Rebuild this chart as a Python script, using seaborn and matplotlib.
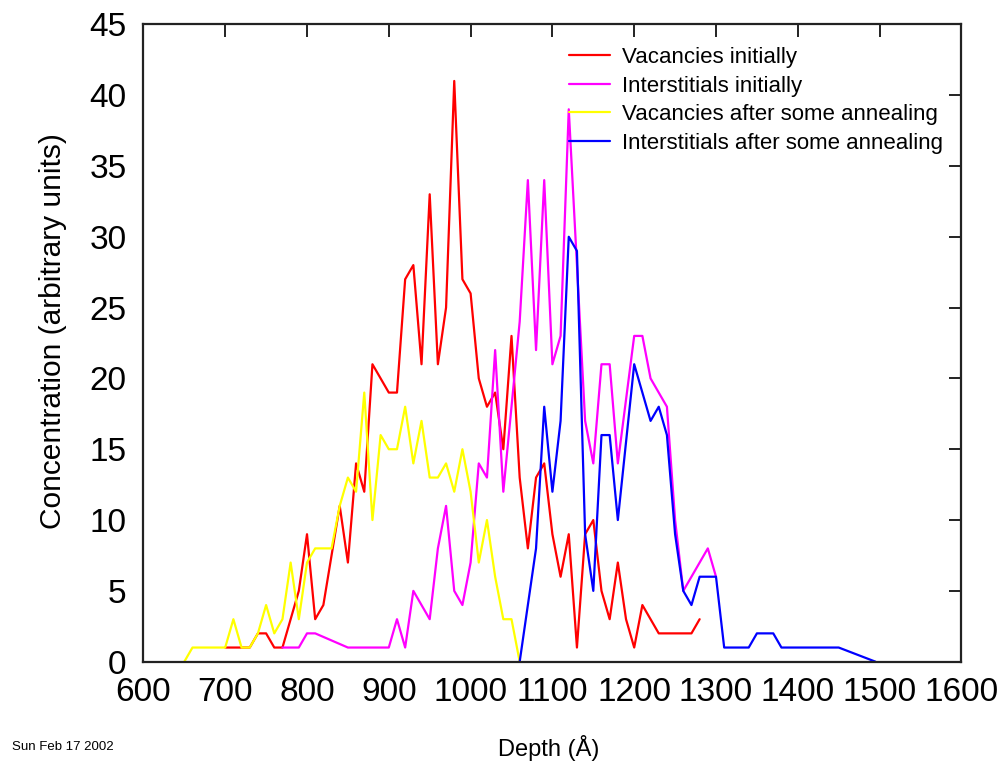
import numpy as np
import pandas as pd
import matplotlib
matplotlib.use("Agg")
import matplotlib.pyplot as plt
import seaborn as sns

# ---- data ----
vac_init_x = [700, 710, 720, 730, 740, 750, 760, 770, 780, 790, 800, 810, 820, 840, 850, 860, 870,
              880, 890, 900, 910, 920, 930, 940, 950, 960, 970, 980, 990, 1000, 1010, 1020, 1030,
              1040, 1050, 1060, 1070, 1080, 1090, 1100, 1110, 1120, 1130, 1140, 1150, 1160, 1170,
              1180, 1190, 1200, 1210, 1220, 1230, 1240, 1250, 1260, 1270, 1280]
vac_init_y = [1, 1, 1, 1, 2, 2, 1, 1, 3, 5, 9, 3, 4, 11, 7, 14, 12,
              21, 20, 19, 19, 27, 28, 21, 33, 21, 25, 41, 27, 26, 20, 18, 19,
              15, 23, 13, 8, 13, 14, 9, 6, 9, 1, 9, 10, 5, 3,
              7, 3, 1, 4, 3, 2, 2, 2, 2, 2, 3]

int_init_x = [770, 780, 790, 800, 810, 850, 900, 910, 920, 930, 940, 950, 960, 970, 980, 990, 1000,
              1010, 1020, 1030, 1040, 1050, 1060, 1070, 1080, 1090, 1100, 1110, 1120, 1130, 1140,
              1150, 1160, 1170, 1180, 1200, 1210, 1220, 1230, 1240, 1250, 1260, 1270, 1280, 1290, 1300]
int_init_y = [1, 1, 1, 2, 2, 1, 1, 3, 1, 5, 4, 3, 8, 11, 5, 4, 7,
              14, 13, 22, 12, 18, 24, 34, 22, 34, 21, 23, 39, 28, 17,
              14, 21, 21, 14, 23, 23, 20, 19, 18, 10, 5, 6, 7, 8, 6]

vac_ann_x = [650, 660, 700, 710, 720, 730, 740, 750, 760, 770, 780, 790, 800, 810, 830, 840, 850,
             860, 870, 880, 890, 900, 910, 920, 930, 940, 950, 960, 970, 980, 990, 1000, 1010,
             1020, 1030, 1040, 1050, 1060]
vac_ann_y = [0, 1, 1, 3, 1, 1, 2, 4, 2, 3, 7, 3, 7, 8, 8, 11, 13,
             12, 19, 10, 16, 15, 15, 18, 14, 17, 13, 13, 14, 12, 15, 12, 7,
             10, 6, 3, 3, 0]

int_ann_x = [1060, 1080, 1090, 1100, 1110, 1120, 1130, 1140, 1150, 1160, 1170, 1180, 1200, 1210,
             1220, 1230, 1240, 1250, 1260, 1270, 1280, 1300, 1310, 1340, 1350, 1370, 1380, 1450, 1495]
int_ann_y = [0, 8, 18, 12, 17, 30, 29, 9, 5, 16, 16, 10, 21, 19,
             17, 18, 16, 9, 5, 4, 6, 6, 1, 1, 2, 2, 1, 1, 0]

series_names = ["Vacancies initially", "Interstitials initially",
                "Vacancies after some annealing", "Interstitials after some annealing"]
series_colors = ["#ff0000", "#ff00ff", "#ffff00", "#0000ff"]

x_ticks = [600, 700, 800, 900, 1000, 1100, 1200, 1300, 1400, 1500, 1600]
y_ticks = [0, 5, 10, 15, 20, 25, 30, 35, 40, 45]

x_label = "Depth (Å)"
y_label = "Concentration (arbitrary units)"
date_text = "Sun Feb 17 2002"

# ---- styling ----
sns.set_theme(style="white")
plt.rcParams["font.family"] = ["Liberation Sans", "DejaVu Sans"]
plt.rcParams["text.color"] = "black"
plt.rcParams["axes.labelcolor"] = "black"
plt.rcParams["xtick.color"] = "black"
plt.rcParams["ytick.color"] = "black"

W, H = 1003, 771
fig = plt.figure(figsize=(W / 100, H / 100), dpi=100)
ax = fig.add_axes([143.4 / W, 1 - 661.7 / H, (961.4 - 143.4) / W, (661.7 - 24.3) / H])

data = [(vac_init_x, vac_init_y), (int_init_x, int_init_y),
        (vac_ann_x, vac_ann_y), (int_ann_x, int_ann_y)]
for (xs, ys), name, col in zip(data, series_names, series_colors):
    df = pd.DataFrame({"x": xs, "y": ys})
    sns.lineplot(data=df, x="x", y="y", ax=ax, color=col, linewidth=1.6,
                 estimator=None, sort=False, label=name)

ax.set_xlim(600, 1600)
ax.set_ylim(0, 45)
ax.set_xticks(x_ticks)
ax.set_yticks(y_ticks)
ax.tick_params(axis="both", which="both", direction="in", length=9, width=1.4,
               color="#222222", labelcolor="black", labelsize=24, top=True, right=True)
ax.tick_params(axis="x", pad=11)
ax.tick_params(axis="y", pad=12)
for s in ax.spines.values():
    s.set_linewidth(1.6)
    s.set_color("#222222")

ax.set_xlabel("")
ax.set_ylabel("")
fig.text(549 / W, 1 - 748 / H, x_label, fontsize=17, ha="center", va="center", color="black")
fig.text(53 / W, 1 - 331 / H, y_label, fontsize=21.5, ha="center", va="center",
         rotation=90, color="black")
fig.text(12 / W, 1 - 747 / H, date_text, fontsize=9.5, ha="left", va="center", color="black")

leg = ax.legend(loc="upper left", bbox_to_anchor=(569 / W, 1 - 47 / H),
                bbox_transform=fig.transFigure, frameon=False, fontsize=16,
                handlelength=1.85, handletextpad=0.55, labelspacing=0.34,
                borderpad=0, borderaxespad=0)
for line in leg.get_lines():
    line.set_linewidth(1.6)
for t in leg.get_texts():
    t.set_color("black")

fig.savefig("out.png", dpi=100)
